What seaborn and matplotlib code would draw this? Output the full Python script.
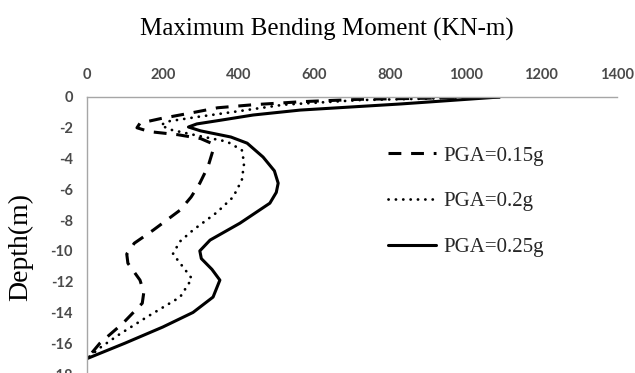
import matplotlib
matplotlib.use("Agg")
import matplotlib.pyplot as plt
import seaborn as sns
import pandas as pd

# ---- data ----
depth_015 = [0, -0.15, -0.3, -0.5, -0.7, -1.05, -1.4, -1.7, -2.0, -2.25, -2.45, -2.7, -3.0, -3.45,
             -4.5, -5.6, -6.5, -7.35, -8.65, -9.5, -10.2, -10.8, -11.9, -12.7, -13.4, -14.7, -16.0, -17.0]
moment_015 = [1090, 720, 570, 440, 345, 272, 195, 140, 132, 165, 240, 300, 328, 333,
              320, 298, 275, 246, 175, 125, 105, 108, 140, 150, 146, 95, 34, 0]

depth_020 = [0, -0.2, -0.5, -1.0, -1.3, -1.6, -1.85, -2.15, -2.5, -2.9, -3.45, -4.3, -5.4, -6.5,
             -7.5, -8.65, -9.4, -10.2, -10.8, -11.8, -13.0, -14.3, -15.4, -16.3, -17.0]
moment_020 = [1090, 720, 520, 378, 290, 210, 195, 225, 290, 370, 409, 415, 409, 386,
              343, 280, 245, 227, 246, 277, 246, 158, 87, 34, 0]

depth_025 = [0, -0.45, -0.85, -1.17, -1.5, -1.75, -1.95, -2.2, -2.6, -3.0, -3.9, -4.8, -5.6, -6.2,
             -6.9, -8.2, -9.3, -10.0, -10.5, -11.2, -11.9, -13.0, -14.0, -14.95, -16.0, -17.0]
moment_025 = [1090, 830, 563, 439, 355, 290, 268, 300, 380, 423, 465, 495, 505, 500,
              483, 404, 325, 298, 302, 330, 351, 333, 280, 200, 100, 0]

labels = ["PGA=0.15g", "PGA=0.2g", "PGA=0.25g"]
x_ticks = [0, 200, 400, 600, 800, 1000, 1200, 1400]
y_ticks = [0, -2, -4, -6, -8, -10, -12, -14, -16, -18]

sns.set_style("white")
plt.rcParams["font.family"] = ["DejaVu Sans"]

fig = plt.figure(figsize=(6.35, 3.73), dpi=100)
ax = fig.add_axes([87 / 635, 1 - 374 / 373, (617 - 87) / 635, (374 - 97) / 373])

series = [
    (depth_015, moment_015, labels[0], dict(linestyle=(0, (4.2, 3.2)), linewidth=2.2, dash_capstyle="butt")),
    (depth_020, moment_020, labels[1], dict(linestyle=(0, (0.05, 2.6)), linewidth=2.0, dash_capstyle="round")),
    (depth_025, moment_025, labels[2], dict(linestyle="-", linewidth=2.2)),
]
for d, m, lab, style in series:
    df = pd.DataFrame({"moment": m, "depth": d})
    sns.lineplot(data=df, x="moment", y="depth", sort=False, estimator=None,
                 color="black", label=lab, ax=ax, legend=False, **style)

ax.set_xlim(0, 1400)
ax.set_ylim(-18, 0)
ax.set_xticks(x_ticks)
ax.set_yticks(y_ticks)
ax.set_yticklabels([str(v) for v in y_ticks])
ax.xaxis.tick_top()
ax.tick_params(axis="both", length=0, labelsize=10.5, labelcolor="#4a4a4a")
ax.tick_params(axis="x", pad=11)
ax.tick_params(axis="y", pad=10)
for lab in ax.get_xticklabels() + ax.get_yticklabels():
    lab.set_fontfamily("Lato")
    lab.set_fontweight("bold")
ax.set_xlabel("")
ax.set_ylabel("")
for s in ["right", "bottom"]:
    ax.spines[s].set_visible(False)
for s in ["top", "left"]:
    ax.spines[s].set_color("#a6a6a6")
    ax.spines[s].set_linewidth(1.0)
ax.grid(False)

fig.text(327 / 635, 1 - 29 / 373, "Maximum Bending Moment (KN-m)", ha="center", va="center",
         fontsize=18, family="Liberation Serif", color="black")
fig.text(21 / 635, 1 - 247 / 373, "Depth(m)", ha="center", va="center", rotation=90,
         fontsize=20, family="Liberation Serif", color="black")

handles, labs = ax.get_legend_handles_labels()
leg = ax.legend(handles, labs, loc="upper left", bbox_to_anchor=(388 / 635, 1 - 146 / 373),
                bbox_transform=fig.transFigure, frameon=False,
                prop={"family": "Liberation Serif", "size": 15},
                handlelength=2.3, handletextpad=0.35, labelspacing=1.25, borderpad=0, borderaxespad=0)

fig.savefig("out.png", dpi=100)
